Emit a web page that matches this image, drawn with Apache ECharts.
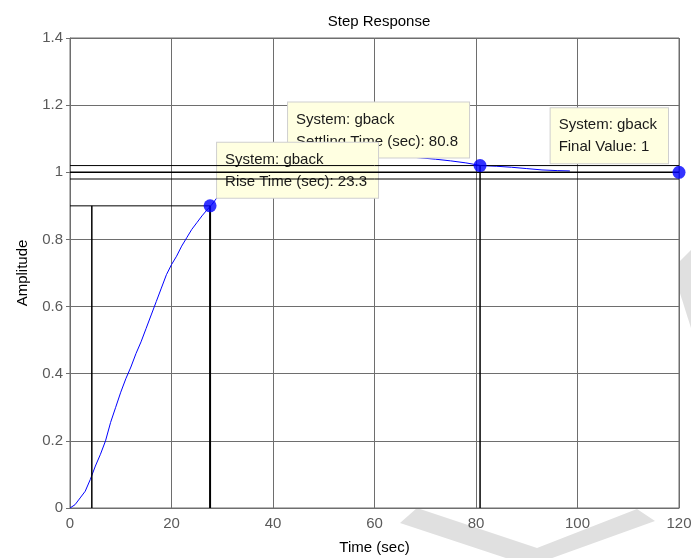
<!DOCTYPE html>
<html>
<head>
<meta charset="utf-8">
<script src="https://cdn.jsdelivr.net/npm/echarts@6/dist/echarts.min.js"></script>
<style>
  html, body { margin: 0; padding: 0; background: #fff; }
  #chart { width: 691px; height: 558px; }
</style>
</head>
<body>
<div id="chart"></div>
<script>
// Step response of the closed loop system "gback"
const timeSec = [0, 1, 2, 3, 4, 5, 6, 7, 8, 9, 10, 11, 12, 13, 14, 15, 16, 17, 18, 19, 20,
  21, 22, 23, 24, 25, 26, 27, 28, 29, 30, 32, 34, 36, 38, 40, 42, 45, 48, 51, 54, 57, 60,
  63, 66, 69, 72, 75, 78, 81, 84, 87, 90, 93, 96, 98.5];
const amplitude = [0, 0.01, 0.03, 0.05, 0.085, 0.125, 0.16, 0.2, 0.255, 0.3, 0.345, 0.385,
  0.42, 0.46, 0.495, 0.535, 0.575, 0.615, 0.655, 0.695, 0.725, 0.75, 0.78, 0.805, 0.83,
  0.85, 0.87, 0.888, 0.905, 0.925, 0.94, 0.965, 0.985, 1.0, 1.015, 1.027, 1.036, 1.046,
  1.052, 1.055, 1.056, 1.055, 1.053, 1.05, 1.047, 1.043, 1.039, 1.034, 1.028, 1.02,
  1.018, 1.015, 1.011, 1.007, 1.005, 1.004];

// Step characteristics
const systemName = 'gback';
const riseStart = 4.3;        // time at 10 % of final value
const riseTime = 23.3;        // 10 % -> 90 %
const riseEnd = +(riseStart + riseTime).toFixed(1);
const riseLow = 0.1;
const riseHigh = 0.9;
const settlingTime = 80.8;
const settlingTol = 0.02;
const finalValue = 1;
const endTime = 120;

// Axis ticks
const xTicks = [0, 20, 40, 60, 80, 100, 120];
const yTicks = [0, 0.2, 0.4, 0.6, 0.8, 1.0, 1.2, 1.4];

const FONT = '"Liberation Sans", Arial, sans-serif';
const TIP_FONT = '15px ' + FONT;
const GRID = '#6e6e6e';

const chart = echarts.init(document.getElementById('chart'));

function seg(points, width, z) {
  return {
    type: 'line', data: points, showSymbol: false, silent: true, z: z,
    lineStyle: { color: '#000', width: width }, animation: false
  };
}

const upper = finalValue * (1 + settlingTol);
const lower = finalValue * (1 - settlingTol);

chart.setOption({
  animation: false,
  backgroundColor: '#fff',
  title: {
    text: 'Step Response', left: 374, top: 9, textAlign: 'center',
    textStyle: { fontFamily: FONT, fontSize: 15, fontWeight: 'normal', color: '#000' }
  },
  grid: {
    left: 70, right: 12, top: 38, bottom: 50, show: true, outerBoundsMode: 'none',
    containLabel: false,
    backgroundColor: '#fff', borderColor: GRID, borderWidth: 1
  },
  xAxis: {
    type: 'value', min: xTicks[0], max: xTicks[xTicks.length - 1], interval: xTicks[1] - xTicks[0],
    name: 'Time (sec)', nameLocation: 'middle', nameGap: 32,
    nameTextStyle: { fontFamily: FONT, fontSize: 15, color: '#000' },
    axisLine: { show: true, lineStyle: { color: GRID } },
    axisTick: { show: false },
    axisLabel: { fontFamily: FONT, fontSize: 15, color: '#5a5a5a', margin: 8 },
    splitLine: { show: true, lineStyle: { color: GRID, width: 1 } }
  },
  yAxis: {
    type: 'value', min: yTicks[0], max: yTicks[yTicks.length - 1], interval: 0.2,
    name: 'Amplitude', nameLocation: 'middle', nameGap: 40,
    nameTextStyle: { fontFamily: FONT, fontSize: 15, color: '#000' },
    axisLine: { show: true, lineStyle: { color: GRID } },
    axisTick: { show: true, length: 4, lineStyle: { color: GRID } },
    axisLabel: {
      fontFamily: FONT, fontSize: 15, color: '#5a5a5a', margin: 7,
      formatter: v => String(+v.toFixed(1))
    },
    splitLine: { show: true, lineStyle: { color: GRID, width: 1 } }
  },
  series: [
    {
      name: systemName, type: 'line', z: 2, showSymbol: false, silent: true,
      data: timeSec.map((t, i) => [t, amplitude[i]]),
      lineStyle: { color: '#0000ff', width: 1 }
    },
    // settling band
    seg([[0, upper], [endTime, upper]], 1, 8),
    seg([[0, finalValue], [endTime, finalValue]], 1.6, 8),
    seg([[0, lower], [endTime, lower]], 1, 8),
    // rise time guides
    seg([[0, riseHigh], [riseEnd, riseHigh]], 1, 8),
    seg([[riseStart, 0], [riseStart, riseHigh]], 1.5, 8),
    seg([[riseEnd, 0], [riseEnd, riseHigh]], 2, 8),
    // settling time guide
    seg([[settlingTime, 0], [settlingTime, upper]], 1.5, 8),
    {
      type: 'scatter', z: 10, silent: true, symbolSize: 13,
      itemStyle: { color: '#0000ff' },
      data: [[riseEnd, riseHigh], [settlingTime, upper], [endTime, finalValue]]
    }
  ]
});

// width of the widest line, used to place right-anchored data tips
const measureCtx = document.createElement('canvas').getContext('2d');
function textWidth(lines) {
  measureCtx.font = TIP_FONT;
  return Math.max.apply(null, lines.map(s => measureCtx.measureText(s).width));
}

const PAD = [6, 11, 5, 8];

// Data tips anchored to the characteristic points
function tip(anchor, dx, dy, side, lines, z) {
  const p = chart.convertToPixel({ gridIndex: 0 }, anchor);
  let x = p[0] + dx;
  if (side === 'left') {
    x -= textWidth(lines) + PAD[1] + PAD[3] + 2;
  }
  return {
    type: 'text', x: x, y: p[1] + dy, z: z, silent: true,
    style: {
      text: lines.join('\n'), font: TIP_FONT, fill: '#1a1a1a',
      lineHeight: 22, align: 'left', textAlign: 'left',
      verticalAlign: 'bottom', textVerticalAlign: 'bottom',
      backgroundColor: '#ffffe1', borderColor: '#cfcfcf', borderWidth: 1,
      padding: PAD
    }
  };
}

chart.setOption({
  graphic: [
    // faint background mark outside the axes
    { type: 'polygon', z: -1, silent: true,
      shape: { points: [[400, 523], [417, 508], [537, 548], [637, 509], [655, 521], [530, 566]] },
      style: { fill: '#e0e0e0' } },
    { type: 'polygon', z: -1, silent: true,
      shape: { points: [[679, 262], [691, 250], [691, 328], [679, 290]] },
      style: { fill: '#e0e0e0' } },
    tip([settlingTime, upper], -9, -8, 'left',
      ['System: ' + systemName, 'Settling Time (sec): ' + settlingTime], 4),
    tip([riseEnd, riseHigh], 7, -8, 'right',
      ['System: ' + systemName, 'Rise Time (sec): ' + riseTime], 5),
    tip([endTime, finalValue], -9, -9, 'left',
      ['System: ' + systemName, 'Final Value: ' + finalValue], 4)
  ]
});
</script>
</body>
</html>
